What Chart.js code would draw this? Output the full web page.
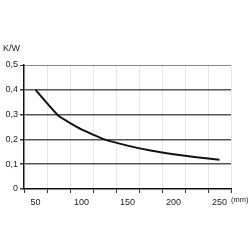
<!DOCTYPE html>
<html>
<head>
<meta charset="utf-8">
<script src="https://cdn.jsdelivr.net/npm/chart.js@4"></script>
<style>
  html, body { margin: 0; padding: 0; background: #fff; }
  #wrap { width: 250px; height: 250px; }
</style>
</head>
<body>
<div id="wrap"><canvas id="kwChart" width="250" height="250"></canvas></div>
<script>
// distance in mm vs thermal resistance in K/W
const lengths = ['50', '75', '100', '125', '150', '175', '200', '225', '250'];
const resistance = [0.4, 0.295, 0.24, 0.2, 0.175, 0.155, 0.14, 0.128, 0.118];
const yTicks = [0, 0.1, 0.2, 0.3, 0.4, 0.5];

const FONT = 'Liberation Sans, Arial, sans-serif';

function isMajor(v) {
    return Math.abs(v * 10 - Math.round(v * 10)) < 1e-6;
}

// axis unit labels
const unitLabels = {
    id: 'unitLabels',
    afterDraw(chart) {
        const c = chart.ctx;
        c.save();
        c.fillStyle = '#222';
        c.font = '9px ' + FONT;
        c.textBaseline = 'middle';
        c.textAlign = 'left';
        c.fillText('K/W', 3, 49);
        c.font = '7.5px ' + FONT;
        c.fillText('(mm)', 231, 200);
        c.restore();
    }
};

let ctx = document.getElementById('kwChart').getContext('2d');

new Chart(ctx, {
    type: 'line',
    data: {
        labels: lengths,
        datasets: [{
            data: resistance,
            borderColor: '#111',
            borderWidth: 2,
            pointRadius: 0,
            tension: 0.12,
            fill: false
        }]
    },
    options: {
        responsive: false,
        animation: false,
        layout: { padding: { top: 65, right: 19, left: 0, bottom: 0 } },
        plugins: { legend: { display: false }, tooltip: { enabled: false } },
        scales: {
            x: {
                type: 'category',
                offset: true,
                afterFit: function (scale) { scale.height = 61; },
                border: { display: true, color: '#111', width: 1.5 },
                grid: {
                    offset: true,
                    tickLength: 4,
                    color: function (c) {
                        if (c.index === 0) return 'rgba(0,0,0,0)';
                        if (c.index === lengths.length) return '#888';
                        return '#e6e6e6';
                    },
                    tickColor: '#333'
                },
                ticks: {
                    autoSkip: false,
                    maxRotation: 0,
                    padding: 4,
                    color: '#222',
                    font: { family: FONT, size: 9 },
                    callback: function (val, i) { return i % 2 === 0 ? lengths[i] : ''; }
                }
            },
            y: {
                min: yTicks[0],
                max: yTicks[yTicks.length - 1],
                afterFit: function (scale) { scale.width = 24; },
                border: { display: true, color: '#111', width: 1.5 },
                grid: {
                    tickLength: 4,
                    color: function (c) {
                        const v = c.tick ? c.tick.value : 0;
                        if (v === 0) return 'rgba(0,0,0,0)';
                        if (Math.abs(v - 0.5) < 1e-6) return '#888';
                        return isMajor(v) ? '#555' : '#e6e6e6';
                    },
                    lineWidth: function (c) {
                        const v = c.tick ? c.tick.value : 0;
                        return isMajor(v) && v < 0.45 ? 1.5 : 1;
                    },
                    tickColor: function (c) {
                        const v = c.tick ? c.tick.value : 0;
                        return isMajor(v) ? '#333' : 'rgba(0,0,0,0)';
                    }
                },
                ticks: {
                    stepSize: 0.05,
                    padding: 2,
                    color: '#222',
                    font: { family: FONT, size: 9 },
                    callback: function (v) {
                        if (!isMajor(v)) return '';
                        if (Math.abs(v) < 1e-6) return '0';
                        return v.toFixed(1).replace('.', ',');
                    }
                }
            }
        }
    },
    plugins: [unitLabels]
});
</script>
</body>
</html>
